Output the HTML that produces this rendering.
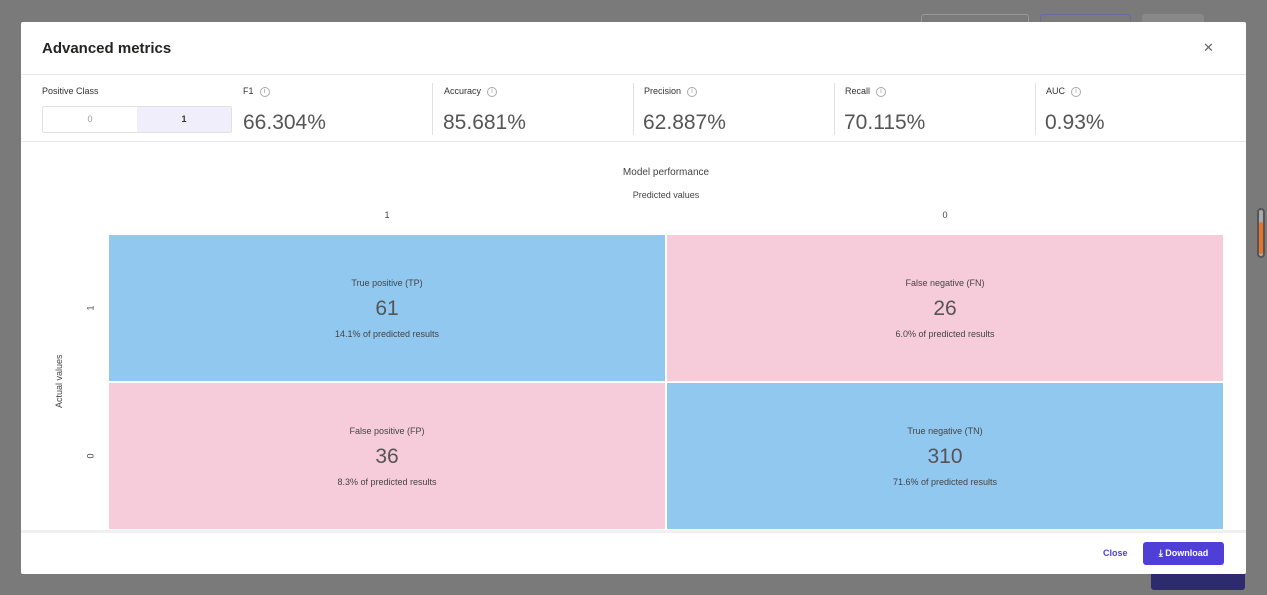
<!DOCTYPE html>
<html><head><meta charset="utf-8">
<style>
*{box-sizing:border-box;margin:0;padding:0}
body{width:1267px;height:595px;overflow:hidden;background:#7a7a7a;font-family:"Liberation Sans",sans-serif;position:relative;color:#323130}
.abs{position:absolute}
#modal{left:21px;top:22px;width:1225px;height:552px;background:#fff;border-radius:2px;overflow:hidden}
.lbl{font-size:9px;color:#323130}
.val{font-size:21px;color:#555;font-weight:300}
.vdiv{width:1px;background:#e1e1e1;top:83px;height:52px}
.info{display:inline-block;width:10px;height:10px;border:1px solid #aaa;border-radius:50%;font-size:7px;color:#999;text-align:center;line-height:8px;margin-left:6px;vertical-align:middle}
.cell{position:absolute;text-align:center}
.cell .t{font-size:9px;color:#444;margin-top:43px}
.cell .n{font-size:21px;color:#555;margin-top:9px;font-weight:300}
.cell .p{font-size:9px;color:#444;margin-top:8px}
</style></head><body>
<div class="abs" style="left:921px;top:14px;width:108px;height:22px;border:1px solid #999;border-radius:3px"></div>
<div class="abs" style="left:1040px;top:14px;width:91px;height:22px;border:1px solid #6a6aa0;border-radius:3px"></div>
<div class="abs" style="left:1142px;top:14px;width:62px;height:22px;background:#888;border-radius:3px"></div>
<div class="abs" style="left:1257px;top:208px;width:8px;height:50px;border:2px solid #555;border-radius:4px;background:#aaa"><div style="margin-top:12px;height:32px;background:#e8742a;border-radius:2px"></div></div>
<div class="abs" style="left:1151px;top:568px;width:94px;height:22px;background:#2e2a6e;border-radius:3px"></div>

<div id="modal" class="abs">
  <div class="abs" style="left:21px;top:18px;font-size:15px;font-weight:bold;color:#252423">Advanced metrics</div>
  <div class="abs" style="left:1182px;top:18px;font-size:13px;color:#666">✕</div>
  <div class="abs" style="left:0;top:52px;width:1225px;height:1px;background:#e6e6e6"></div>

  <div class="abs lbl" style="left:21px;top:64px">Positive Class</div>
  <div class="abs" style="left:21px;top:84px;width:190px;height:27px;border:1px solid #e1e1e1;border-radius:2px;display:flex">
    <div style="width:94px;text-align:center;line-height:25px;font-size:9px;color:#999">0</div>
    <div style="flex:1;text-align:center;line-height:25px;font-size:9px;font-weight:bold;background:#efeefa">1</div>
  </div>

  <div class="abs lbl" style="left:222px;top:64px">F1<span class="info">i</span></div>
  <div class="abs val" style="left:222px;top:89px">66.304%</div>
  <div class="abs vdiv" style="left:411px;top:61px"></div>
  <div class="abs lbl" style="left:423px;top:64px">Accuracy<span class="info">i</span></div>
  <div class="abs val" style="left:422px;top:89px">85.681%</div>
  <div class="abs vdiv" style="left:612px;top:61px"></div>
  <div class="abs lbl" style="left:623px;top:64px">Precision<span class="info">i</span></div>
  <div class="abs val" style="left:622px;top:89px">62.887%</div>
  <div class="abs vdiv" style="left:813px;top:61px"></div>
  <div class="abs lbl" style="left:824px;top:64px">Recall<span class="info">i</span></div>
  <div class="abs val" style="left:823px;top:89px">70.115%</div>
  <div class="abs vdiv" style="left:1014px;top:61px"></div>
  <div class="abs lbl" style="left:1025px;top:64px">AUC<span class="info">i</span></div>
  <div class="abs val" style="left:1024px;top:89px">0.93%</div>
  <div class="abs" style="left:0;top:119px;width:1225px;height:1px;background:#e6e6e6"></div>

  <div class="abs" style="left:88px;top:145px;width:1114px;text-align:center;font-size:10px;color:#444">Model performance</div>
  <div class="abs" style="left:88px;top:168px;width:1114px;text-align:center;font-size:9px;color:#444">Predicted values</div>
  <div class="abs" style="left:33px;top:386px;font-size:9px;color:#444;transform:rotate(-90deg);transform-origin:0 0;white-space:nowrap">Actual values</div>
  <div id="matrix" class="abs" style="left:0;top:0;width:1225px;height:508px"></div>

  <div class="abs" style="left:0;top:508px;width:1225px;height:3px;background:#f0f0f0"></div>
  <div class="abs" style="left:1082px;top:526px;font-size:9px;font-weight:bold;color:#4f3fd6">Close</div>
  <div class="abs" style="left:1122px;top:520px;width:81px;height:23px;background:#4f3fd6;border-radius:3px;color:#fff;font-size:9px;font-weight:bold;line-height:23px;text-align:center">⤓ Download</div>
</div>
<script>
const predictedLabels=["1","0"];
const actualLabels=["1","0"];
const cellTitles=[["True positive (TP)","False negative (FN)"],["False positive (FP)","True negative (TN)"]];
const cellCounts=[[61,26],[36,310]];
const cellPercents=[["14.1%","6.0%"],["8.3%","71.6%"]];
const m=document.getElementById('matrix');
const x0=88,y0=213,cw=556,ch=146,gap=2;
const colX=i=>x0+i*(cw+gap);
const rowY=j=>y0+j*(ch+gap);
predictedLabels.forEach((l,i)=>{
  const d=document.createElement('div');
  
  
  d.className='abs';d.style.cssText=`left:${colX(i)}px;top:188px;width:${cw}px;text-align:center;font-size:9px;color:#444`;
  d.textContent=l;m.appendChild(d);
});
actualLabels.forEach((l,j)=>{
  const d=document.createElement('div');
  
  
  d.className='abs';d.style.cssText=`left:67px;top:${rowY(j)+ch/2-5}px;font-size:9px;color:#444;transform:rotate(-90deg)`;
  d.textContent=l;m.appendChild(d);
});
cellCounts.forEach((row,j)=>row.forEach((v,i)=>{
  const d=document.createElement('div');
  
  
  d.className='cell';
  d.style.cssText=`left:${colX(i)}px;top:${rowY(j)}px;width:${cw}px;height:${ch}px;background:${i===j?'#91c8f0':'#f6ccdb'}`;
  d.innerHTML=`<div class="t">${cellTitles[j][i]}</div><div class="n">${v}</div><div class="p">${cellPercents[j][i]} of predicted results</div>`;
  m.appendChild(d);
}));
</script>
</body></html>
